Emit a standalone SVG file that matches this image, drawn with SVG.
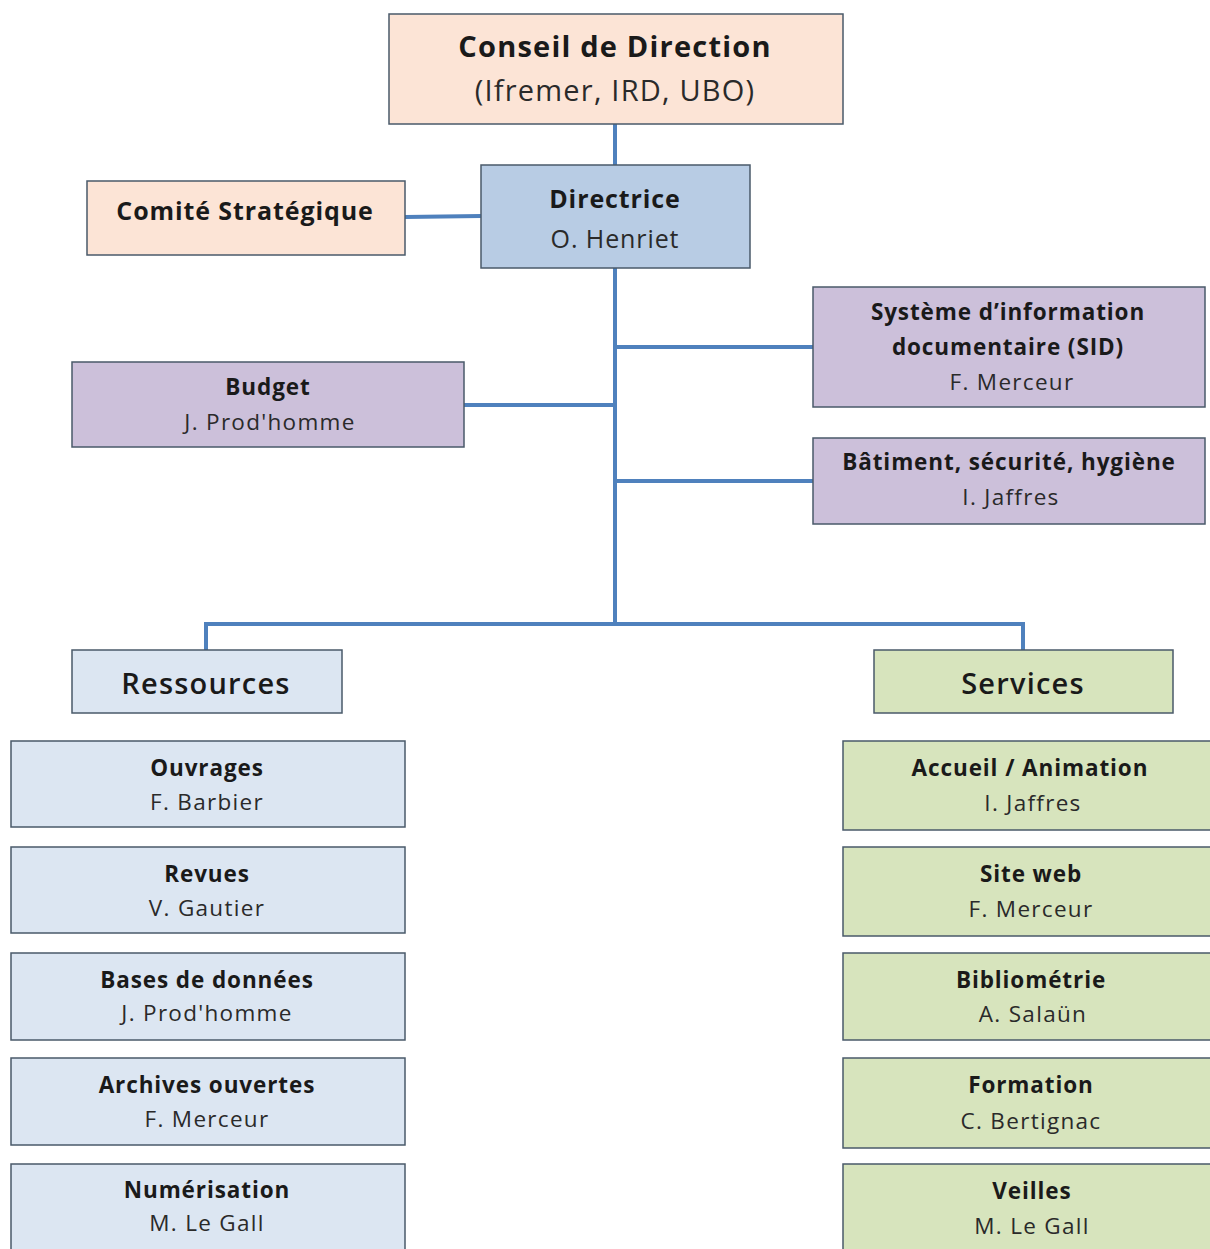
<svg xmlns="http://www.w3.org/2000/svg" width="1210" height="1249" viewBox="0 0 1210 1249">
<style>
.box{stroke:#4a5a6a;stroke-width:1.5}
.peach{fill:#fce4d6}
.blue{fill:#b8cce4}
.purple{fill:#ccc0da}
.lblue{fill:#dce6f2}
.green{fill:#d7e4bd}
text{font-family:"Open Sans",Lato,"Liberation Sans",sans-serif;text-anchor:middle;fill:#1a1a1a}
.b{font-weight:bold;letter-spacing:0.9px}
.n{fill:#2a2a2a;letter-spacing:1.3px}
.s{font-size:22.5px}
.l{font-size:29px;letter-spacing:1.2px}
.m{font-size:25px;letter-spacing:0.9px}
.conn{stroke:#4f81bd;stroke-width:4;fill:none}
</style>
<rect width="1210" height="1249" fill="#ffffff"/>
<g id="connectors">
<line class="conn" x1="615" y1="124" x2="615" y2="165"/>
<line class="conn" x1="405" y1="217" x2="481" y2="216"/>
<line class="conn" x1="615" y1="268" x2="615" y2="626"/>
<line class="conn" x1="615" y1="347" x2="813" y2="347"/>
<line class="conn" x1="464" y1="405" x2="615" y2="405"/>
<line class="conn" x1="615" y1="481" x2="813" y2="481"/>
<polyline class="conn" points="206,650 206,624 1023,624 1023,650"/>
</g>
<g id="conseil">
<rect class="box peach" x="389" y="14" width="454" height="110"/>
<text class="b l" x="615" y="57">Conseil de Direction</text>
<text class="n l" x="615" y="101">(Ifremer, IRD, UBO)</text>
</g>
<g id="directrice">
<rect class="box blue" x="481" y="165" width="269" height="103"/>
<text class="b m" x="615" y="208">Directrice</text>
<text class="n m" x="615" y="248">O. Henriet</text>
</g>
<g id="comite">
<rect class="box peach" x="87" y="181" width="318" height="74"/>
<text class="b m" x="245" y="220">Comité Stratégique</text>
</g>
<g id="sid">
<rect class="box purple" x="813" y="287" width="392" height="120"/>
<text class="b s" x="1008" y="320">Système d’information</text>
<text class="b s" x="1008" y="355">documentaire (SID)</text>
<text class="n s" x="1012" y="390">F. Merceur</text>
</g>
<g id="budget">
<rect class="box purple" x="72" y="362" width="392" height="85"/>
<text class="b s" x="268" y="395">Budget</text>
<text class="n s" x="270" y="430">J. Prod'homme</text>
</g>
<g id="batiment">
<rect class="box purple" x="813" y="438" width="392" height="86"/>
<text class="b s" x="1009" y="470">Bâtiment, sécurité, hygiène</text>
<text class="n s" x="1011" y="505">I. Jaffres</text>
</g>
<g id="ressources">
<rect class="box lblue" x="72" y="650" width="270" height="63"/>
<text class="l" x="206" y="694" style="font-weight:600">Ressources</text>
</g>
<g id="services">
<rect class="box green" x="874" y="650" width="299" height="63"/>
<text class="l" x="1023" y="694" style="font-weight:600">Services</text>
</g>
<g id="ouvrages">
<rect class="box lblue" x="11" y="741" width="394" height="86"/>
<text class="b s" x="207" y="776">Ouvrages</text>
<text class="n s" x="207" y="810">F. Barbier</text>
</g>
<g id="revues">
<rect class="box lblue" x="11" y="847" width="394" height="86"/>
<text class="b s" x="207" y="882">Revues</text>
<text class="n s" x="207" y="916">V. Gautier</text>
</g>
<g id="bases">
<rect class="box lblue" x="11" y="953" width="394" height="87"/>
<text class="b s" x="207" y="988">Bases de données</text>
<text class="n s" x="207" y="1021">J. Prod'homme</text>
</g>
<g id="archives">
<rect class="box lblue" x="11" y="1058" width="394" height="87"/>
<text class="b s" x="207" y="1093">Archives ouvertes</text>
<text class="n s" x="207" y="1127">F. Merceur</text>
</g>
<g id="numerisation">
<rect class="box lblue" x="11" y="1164" width="394" height="100"/>
<text class="b s" x="207" y="1198">Numérisation</text>
<text class="n s" x="207" y="1231">M. Le Gall</text>
</g>
<g id="accueil">
<rect class="box green" x="843" y="741" width="380" height="89"/>
<text class="b s" x="1030" y="776">Accueil / Animation</text>
<text class="n s" x="1033" y="811">I. Jaffres</text>
</g>
<g id="siteweb">
<rect class="box green" x="843" y="847" width="380" height="89"/>
<text class="b s" x="1031" y="882">Site web</text>
<text class="n s" x="1031" y="917">F. Merceur</text>
</g>
<g id="bibliometrie">
<rect class="box green" x="843" y="953" width="380" height="87"/>
<text class="b s" x="1031" y="988">Bibliométrie</text>
<text class="n s" x="1033" y="1022">A. Salaün</text>
</g>
<g id="formation">
<rect class="box green" x="843" y="1058" width="380" height="90"/>
<text class="b s" x="1031" y="1093">Formation</text>
<text class="n s" x="1031" y="1129">C. Bertignac</text>
</g>
<g id="veilles">
<rect class="box green" x="843" y="1164" width="380" height="100"/>
<text class="b s" x="1032" y="1199">Veilles</text>
<text class="n s" x="1032" y="1234">M. Le Gall</text>
</g>
</svg>
